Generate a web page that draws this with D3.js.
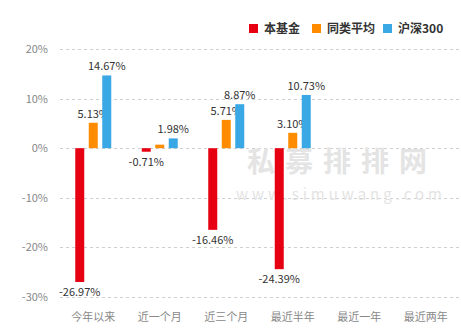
<!DOCTYPE html>
<html><head><meta charset="utf-8">
<script src="https://cdn.jsdelivr.net/npm/d3@7"></script>
<style>body{margin:0;background:#fff}svg{display:block}</style>
</head><body>
<script>
const categories = ["今年以来","近一个月","近三个月","最近半年","最近一年","最近两年"];
const seriesNames = ["本基金","同类平均","沪深300"];
const seriesColors = ["#e60012","#ff8c00","#3ba8e6"];
const fundValues = [-26.97, -0.71, -16.46, -24.39, null, null];
const peerValues = [5.13, 0.71, 5.71, 3.10, null, null];
const hs300Values = [14.67, 1.98, 8.87, 10.73, null, null];
const yTicks = [20, 10, 0, -10, -20, -30];
const peerLabels = ["5.13%", "", "5.71%", "3.10%", "", ""];

const W = 461, H = 336;
const svg = d3.select("body").append("svg").attr("width", W).attr("height", H);
const font = "'Microsoft YaHei','Noto Sans CJK SC',sans-serif";

const x = d3.scaleBand().domain(categories).range([60, 459]);
const y = d3.scaleLinear().domain([-30, 20]).range([297, 49]);

// gridlines
svg.append("g").selectAll("line").data(yTicks).join("line")
  .attr("x1", 60).attr("x2", 459)
  .attr("y1", d => Math.round(y(d)) + 0.5).attr("y2", d => Math.round(y(d)) + 0.5)
  .attr("stroke", "#d0d0d0").attr("stroke-dasharray", "3,3");

// y axis labels
const yAxis = d3.axisLeft(y).tickValues(yTicks).tickSize(0).tickPadding(0).tickFormat(d => d + "%");
const ya = svg.append("g").attr("transform", "translate(48,0)").call(yAxis);
ya.select(".domain").remove();
ya.selectAll("text").attr("fill", "#888").attr("font-size", 11).attr("font-family", font);

// x axis labels
const xAxis = d3.axisBottom(x).tickSize(0).tickPadding(0);
const xa = svg.append("g").attr("transform", "translate(0,315)").call(xAxis);
xa.select(".domain").remove();
xa.selectAll("text").attr("fill", "#888").attr("font-size", 11).attr("font-family", font).attr("dy", "0.5em");

// watermark
svg.append("text").attr("x", 342).attr("y", 172).attr("text-anchor", "middle")
  .attr("font-size", 28).attr("font-weight", "bold").attr("font-family", font)
  .attr("fill", "#e4e4e4").attr("letter-spacing", 10).text("私募排排网");
svg.append("text").attr("x", 341).attr("y", 200).attr("text-anchor", "middle")
  .attr("font-size", 15).attr("font-family", font)
  .attr("fill", "#e4e4e4").attr("letter-spacing", 4).text("www.simuwang.com");

// bars
const series = [fundValues, peerValues, hs300Values];
const bw = 9, step = 13.5;
series.forEach((vals, si) => {
  const data = categories.map((c, i) => ({c, v: vals[i], i})).filter(d => d.v !== null);
  const cx = d => x(d.c) + x.bandwidth() / 2 + (si - 1) * step;
  svg.append("g").selectAll("rect").data(data).join("rect")
    .attr("x", d => cx(d) - bw / 2).attr("width", bw)
    .attr("y", d => y(Math.max(0, d.v))).attr("height", d => Math.abs(y(d.v) - y(0)))
    .attr("fill", seriesColors[si]);
  svg.append("g").selectAll("text").data(data).join("text")
    .attr("x", cx)
    .attr("y", d => d.v >= 0 ? y(d.v) - 5 : y(d.v) + 14)
    .attr("text-anchor", "middle").attr("font-size", 11).attr("font-family", font)
    .attr("fill", "#333")
    .text(d => si === 1 ? peerLabels[d.i] : d.v.toFixed(2) + "%");
});

// legend
const legX = [249, 312, 383];
seriesNames.forEach((n, i) => {
  svg.append("rect").attr("x", legX[i]).attr("y", 24).attr("width", 9).attr("height", 9).attr("fill", seriesColors[i]);
  svg.append("text").attr("x", legX[i] + 15).attr("y", 33).attr("font-size", 12).attr("font-weight", "bold")
    .attr("font-family", font).attr("fill", "#333").text(n);
});
</script>
</body></html>
